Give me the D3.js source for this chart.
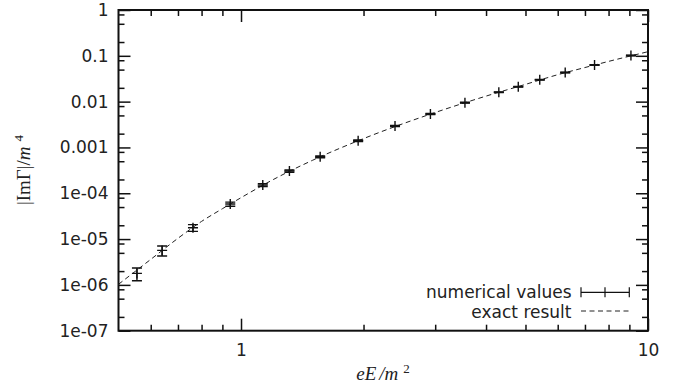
<!DOCTYPE html>
<html>
<head>
<meta charset="utf-8">
<script src="https://cdn.jsdelivr.net/npm/d3@7"></script>
<style>
  body { margin: 0; background: #fff; }
  svg { display: block; }
  .tick text { font-family: "DejaVu Sans", sans-serif; font-size: 17px; fill: #222; }
  .axis path.domain { display: none; }
  .axis line { stroke: #111; stroke-width: 1.5; }
</style>
</head>
<body>
<svg width="681" height="389"></svg>
<script>
// measured points (eE/m^2, |Im Gamma|/m^4, error)
var pointX = [0.555, 0.640, 0.762, 0.941, 1.131, 1.315, 1.565, 1.94, 2.39, 2.92, 3.55, 4.30, 4.80, 5.42, 6.26, 7.39, 9.08];
var pointY = [1.78e-6, 5.66e-6, 1.77e-5, 5.81e-5, 1.51e-4, 3.05e-4, 6.26e-4, 1.40e-3, 2.93e-3, 5.36e-3, 9.46e-3, 0.0160, 0.0211, 0.0301, 0.0432, 0.0630, 0.1015];
var pointErr = [0.55e-6, 1.4e-6, 3e-6, 6e-6, 1.1e-5, 1.8e-5, 3e-5, 5.5e-5, 9e-5, 1.3e-4, 2e-4, 3e-4, 4e-4, 5e-4, 7e-4, 1e-3, 1.5e-3];

// exact result curve
var exactX = [0.5, 0.6, 0.7, 0.8, 0.9, 1, 1.2, 1.5, 2, 3, 4, 5, 6, 7, 8, 10];
var exactY = [1.03e-6, 3.6e-6, 1.04e-5, 2.43e-5, 4.6e-5, 8.0e-5, 1.99e-4, 5.26e-4, 1.56e-3, 5.79e-3, 0.0132, 0.0238, 0.0387, 0.0555, 0.0755, 0.123];

// ticks
var xMajor = [1, 10];
var xMinor = [0.6, 0.7, 0.8, 0.9, 2, 3, 4, 5, 6, 7, 8, 9];
var yMajor = [1, 0.1, 0.01, 0.001, 1e-4, 1e-5, 1e-6, 1e-7];
var yMajorLabels = ['1', '0.1', '0.01', '0.001', '1e-04', '1e-05', '1e-06', '1e-07'];
var yMinor = [];
yMajor.forEach(function(d) {
  if (d < 1) [2, 5, 8].forEach(function(m) { yMinor.push(d * m); });
});

var svg = d3.select('svg');
var plot = {l: 118.5, r: 648, t: 10, b: 330.7};

var xScale = d3.scaleLog().domain([0.5, 10]).range([plot.l, plot.r]);
var yScale = d3.scaleLog().domain([1e-7, 1]).range([plot.b, plot.t]);

function drawAxis(axis, tx, ty) {
  return svg.append('g').attr('class', 'axis')
    .attr('transform', 'translate(' + [tx, ty] + ')')
    .call(axis);
}

// bottom / top
drawAxis(d3.axisBottom(xScale).tickValues(xMajor).tickSize(-12).tickPadding(13)
  .tickFormat(function(d) { return d; }), 0, plot.b);
drawAxis(d3.axisBottom(xScale).tickValues(xMinor).tickSize(-6).tickFormat(''), 0, plot.b);
drawAxis(d3.axisTop(xScale).tickValues(xMajor).tickSize(-12).tickFormat(''), 0, plot.t);
drawAxis(d3.axisTop(xScale).tickValues(xMinor).tickSize(-6).tickFormat(''), 0, plot.t);

// left / right
drawAxis(d3.axisLeft(yScale).tickValues(yMajor).tickSize(-12).tickPadding(10)
  .tickFormat(function(d, i) { return yMajorLabels[i]; }), plot.l, 0);
drawAxis(d3.axisLeft(yScale).tickValues(yMinor).tickSize(-6).tickFormat(''), plot.l, 0);
drawAxis(d3.axisRight(yScale).tickValues(yMajor).tickSize(-12).tickFormat(''), plot.r, 0);
drawAxis(d3.axisRight(yScale).tickValues(yMinor).tickSize(-6).tickFormat(''), plot.r, 0);

// frame
svg.append('rect')
  .attr('x', plot.l).attr('y', plot.t)
  .attr('width', plot.r - plot.l).attr('height', plot.b - plot.t)
  .attr('fill', 'none').attr('stroke', '#111').attr('stroke-width', 2);

// exact result (dashed)
var exact = exactX.map(function(d, i) { return [d, exactY[i]]; });
svg.append('path')
  .datum(exact)
  .attr('fill', 'none')
  .attr('stroke', '#222')
  .attr('stroke-width', 1)
  .attr('stroke-dasharray', '5,3.5')
  .attr('d', d3.line()
    .x(function(d) { return xScale(d[0]); })
    .y(function(d) { return yScale(d[1]); })
    .curve(d3.curveMonotoneX));

// numerical values with error bars
var cap = 5, arm = 5;
var pts = svg.append('g').selectAll('g')
  .data(pointX.map(function(d, i) { return {x: d, y: pointY[i], e: pointErr[i]}; }))
  .enter().append('g')
  .attr('stroke', '#111').attr('stroke-width', 1.4);

pts.append('path').attr('d', function(d) {
  var px = xScale(d.x), hi = yScale(d.y + d.e), lo = yScale(d.y - d.e);
  return 'M' + px + ',' + lo + 'V' + hi +
    'M' + (px - cap) + ',' + hi + 'H' + (px + cap) +
    'M' + (px - cap) + ',' + lo + 'H' + (px + cap);
});
pts.append('path').attr('d', function(d) {
  var px = xScale(d.x), py = yScale(d.y);
  return 'M' + (px - arm) + ',' + py + 'H' + (px + arm) +
    'M' + px + ',' + (py - arm) + 'V' + (py + arm);
});

// legend
var legend = svg.append('g')
  .attr('font-family', '"DejaVu Sans", sans-serif')
  .attr('font-size', 17).attr('fill', '#222');
legend.append('text').attr('x', 571.5).attr('y', 298).attr('text-anchor', 'end').text('numerical values');
legend.append('text').attr('x', 571.5).attr('y', 317.5).attr('text-anchor', 'end').text('exact result');
legend.append('path')
  .attr('d', 'M581,292.3H629.3M581,287.3V297.3M629.3,287.3V297.3M605,287.3V297.3')
  .attr('stroke', '#111').attr('stroke-width', 1.2).attr('fill', 'none');
legend.append('line')
  .attr('x1', 581).attr('x2', 629.3).attr('y1', 311).attr('y2', 311)
  .attr('stroke', '#222').attr('stroke-width', 1).attr('stroke-dasharray', '5,3.5');

// axis titles
var xt = svg.append('text')
  .attr('x', 383).attr('y', 380)
  .attr('text-anchor', 'middle')
  .attr('font-family', '"Liberation Serif", serif')
  .attr('font-size', 19).attr('fill', '#222');
xt.append('tspan').attr('font-style', 'italic').text('eE');
xt.append('tspan').attr('font-style', 'italic').attr('dx', 3).text('/m');
xt.append('tspan').attr('font-size', 13).attr('dx', 5).attr('dy', -7).text('2');

var yt = svg.append('text')
  .attr('transform', 'translate(30,170) rotate(-90)')
  .attr('text-anchor', 'middle')
  .attr('font-family', '"Liberation Serif", serif')
  .attr('font-size', 19).attr('fill', '#222');
yt.append('tspan').text('|ImΓ|/');
yt.append('tspan').attr('font-style', 'italic').text('m');
yt.append('tspan').attr('font-size', 13).attr('dx', 5).attr('dy', -7).text('4');
</script>
</body>
</html>
